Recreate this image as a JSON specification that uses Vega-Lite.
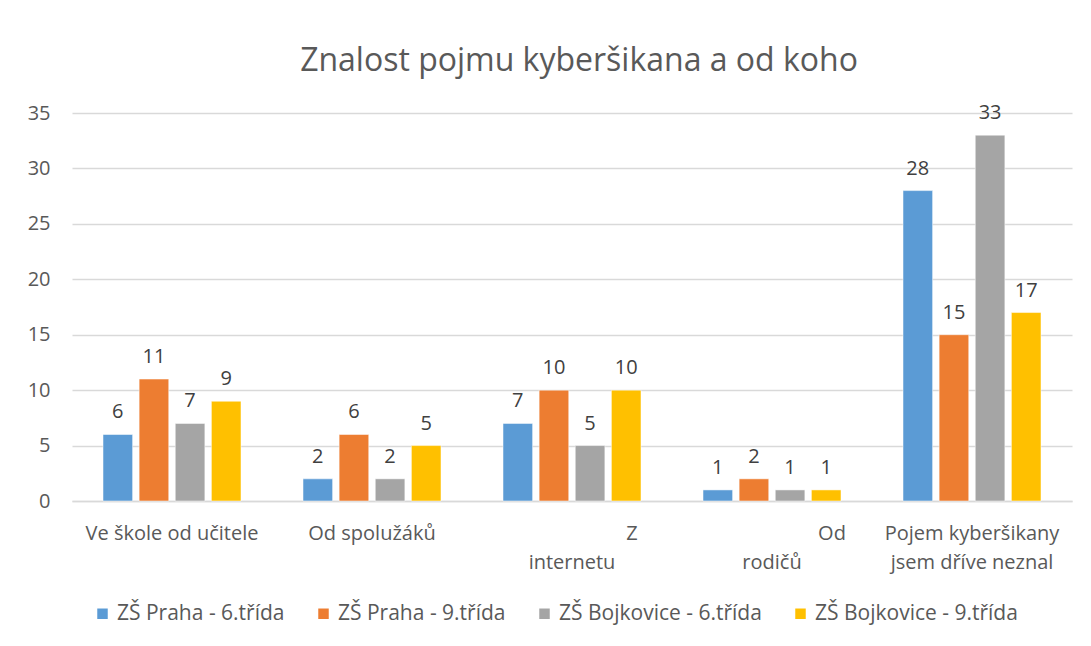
{
  "$schema": "https://vega.github.io/schema/vega-lite/v6.json",
  "width": 1000,
  "height": 388,
  "autosize": {"type": "none"},
  "padding": {"left": 72, "top": 113, "right": 19, "bottom": 145},
  "background": "white",
  "title": {
    "text": "Znalost pojmu kyberšikana a od koho",
    "font": "Open Sans",
    "fontSize": 32,
    "fontWeight": "normal",
    "color": "#595959",
    "offset": 25,
    "anchor": "middle",
    "dx": 7
  },
  "data": {
    "values": [
      {"zdroj": "Ve škole od učitele", "skupina": "ZŠ Praha - 6.třída", "pocet": 6},
      {"zdroj": "Ve škole od učitele", "skupina": "ZŠ Praha - 9.třída", "pocet": 11},
      {"zdroj": "Ve škole od učitele", "skupina": "ZŠ Bojkovice - 6.třída", "pocet": 7},
      {"zdroj": "Ve škole od učitele", "skupina": "ZŠ Bojkovice - 9.třída", "pocet": 9},
      {"zdroj": "Od spolužáků", "skupina": "ZŠ Praha - 6.třída", "pocet": 2},
      {"zdroj": "Od spolužáků", "skupina": "ZŠ Praha - 9.třída", "pocet": 6},
      {"zdroj": "Od spolužáků", "skupina": "ZŠ Bojkovice - 6.třída", "pocet": 2},
      {"zdroj": "Od spolužáků", "skupina": "ZŠ Bojkovice - 9.třída", "pocet": 5},
      {"zdroj": "Z internetu", "skupina": "ZŠ Praha - 6.třída", "pocet": 7},
      {"zdroj": "Z internetu", "skupina": "ZŠ Praha - 9.třída", "pocet": 10},
      {"zdroj": "Z internetu", "skupina": "ZŠ Bojkovice - 6.třída", "pocet": 5},
      {"zdroj": "Z internetu", "skupina": "ZŠ Bojkovice - 9.třída", "pocet": 10},
      {"zdroj": "Od rodičů", "skupina": "ZŠ Praha - 6.třída", "pocet": 1},
      {"zdroj": "Od rodičů", "skupina": "ZŠ Praha - 9.třída", "pocet": 2},
      {"zdroj": "Od rodičů", "skupina": "ZŠ Bojkovice - 6.třída", "pocet": 1},
      {"zdroj": "Od rodičů", "skupina": "ZŠ Bojkovice - 9.třída", "pocet": 1},
      {"zdroj": "Pojem kyberšikany jsem dříve neznal", "skupina": "ZŠ Praha - 6.třída", "pocet": 28},
      {"zdroj": "Pojem kyberšikany jsem dříve neznal", "skupina": "ZŠ Praha - 9.třída", "pocet": 15},
      {"zdroj": "Pojem kyberšikany jsem dříve neznal", "skupina": "ZŠ Bojkovice - 6.třída", "pocet": 33},
      {"zdroj": "Pojem kyberšikany jsem dříve neznal", "skupina": "ZŠ Bojkovice - 9.třída", "pocet": 17}
    ]
  },
  "encoding": {
    "x": {
      "field": "zdroj",
      "type": "nominal",
      "sort": null,
      "title": null,
      "scale": {"paddingInner": 0.31, "paddingOuter": 0.155},
      "axis": {
        "labelAngle": 0,
        "labelFont": "Open Sans",
        "labelFontSize": 20,
        "labelColor": "#595959",
        "labelPadding": 22,
        "labelLineHeight": 29,
        "ticks": false,
        "domainColor": "#d9d9d9",
        "domainWidth": 1.5,
        "labelLimit": 300,
        "labelExpr": "{'Z internetu': ['\u200b\u2003\u2003\u2003\u2003\u2003\u2003Z', 'internetu'], 'Od rodičů': ['\u200b\u2003\u2003\u2003\u2003\u2003\u2003Od', 'rodičů'], 'Pojem kyberšikany jsem dříve neznal': ['Pojem kyberšikany', 'jsem dříve neznal']}[datum.value] || datum.value"
      }
    },
    "xOffset": {
      "field": "skupina",
      "type": "nominal",
      "sort": ["ZŠ Praha - 6.třída", "ZŠ Praha - 9.třída", "ZŠ Bojkovice - 6.třída", "ZŠ Bojkovice - 9.třída"],
      "scale": {"paddingInner": 0.18, "paddingOuter": 0}
    },
    "y": {
      "field": "pocet",
      "type": "quantitative",
      "title": null,
      "scale": {"domain": [0, 35], "nice": false},
      "axis": {
        "values": [0, 5, 10, 15, 20, 25, 30, 35],
        "labelFont": "Open Sans",
        "labelFontSize": 20,
        "labelColor": "#595959",
        "labelPadding": 22,
        "ticks": false,
        "domain": false,
        "gridColor": "#d9d9d9",
        "gridWidth": 1.5
      }
    }
  },
  "layer": [
    {
      "mark": {"type": "bar", "stroke": "white", "strokeOpacity": 0.5, "strokeWidth": 1},
      "encoding": {
        "color": {
          "field": "skupina",
          "type": "nominal",
          "sort": ["ZŠ Praha - 6.třída", "ZŠ Praha - 9.třída", "ZŠ Bojkovice - 6.třída", "ZŠ Bojkovice - 9.třída"],
          "scale": {
            "domain": ["ZŠ Praha - 6.třída", "ZŠ Praha - 9.třída", "ZŠ Bojkovice - 6.třída", "ZŠ Bojkovice - 9.třída"],
            "range": ["#5b9bd5", "#ed7d31", "#a5a5a5", "#ffc000"]
          },
          "legend": {
            "title": null,
            "orient": "none",
            "direction": "horizontal",
            "legendX": 20,
            "legendY": 490,
            "symbolType": "square",
            "symbolSize": 110,
            "symbolStrokeWidth": 0,
            "labelFont": "Open Sans",
            "labelFontSize": 21,
            "labelColor": "#595959",
            "labelOffset": 4,
            "columnPadding": 28,
            "labelLimit": 300
          }
        }
      }
    },
    {
      "mark": {"type": "text", "baseline": "bottom", "dy": -12, "font": "Open Sans", "fontSize": 20, "color": "#404040"},
      "encoding": {
        "text": {"field": "pocet", "type": "quantitative"}
      }
    }
  ],
  "config": {
    "view": {"stroke": null}
  }
}
